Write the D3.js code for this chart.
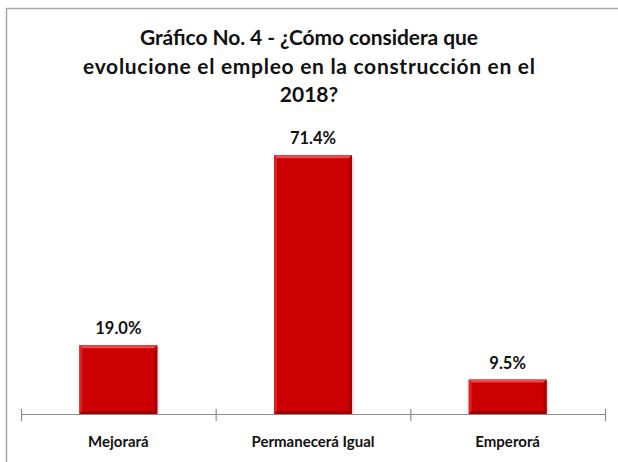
<!DOCTYPE html>
<meta charset="utf-8">
<style>
body { margin: 0; background: #fff; }
text { font-family: Lato, "Open Sans", sans-serif; font-weight: bold; fill: #111; }
</style>
<body>
<script src="https://d3js.org/d3.v7.min.js"></script>
<script>

// data
var categories = ["Mejorará", "Permanecerá Igual", "Emperorá"];
var values = [19.0, 71.4, 9.5];
var valueLabels = ["19.0%", "71.4%", "9.5%"];
var titleLines = ["Gráfico No. 4 - ¿Cómo considera que",
                  "evolucione el empleo en la construcción en el",
                  "2018?"];
var titleWidths = [338, 452, null];

var w = 618, h = 462;

var svg = d3.select("body").append("svg")
    .attr("width", w)
    .attr("height", h);

// chart frame (runs past the right / bottom edge)
svg.append("rect")
    .attr("x", 6.5).attr("y", 8.5)
    .attr("width", 640).attr("height", 480)
    .attr("fill", "#fff")
    .attr("stroke", "#a6a6a6")
    .attr("stroke-width", 1.5);

// title
svg.selectAll(".title")
    .data(titleLines)
    .enter().append("text")
    .attr("class", "title")
    .attr("x", 309)
    .attr("y", function(d, i) { return 45 + i * 28.5; })
    .attr("text-anchor", "middle")
    .style("font-size", "21px")
    .each(function(d, i) {
        if (titleWidths[i]) {
            d3.select(this).attr("textLength", titleWidths[i]).attr("lengthAdjust", "spacing");
        }
    })
    .text(function(d) { return d; });

// scales
var x = d3.scaleBand()
    .domain(categories)
    .range([21, 605])
    .padding(0);

var y = d3.scaleLinear()
    .domain([0, 80])
    .range([414, 124]);

var barW = x.bandwidth() * 0.4;

// axis line + ticks at band edges
svg.append("line")
    .attr("x1", 21).attr("x2", 605)
    .attr("y1", 414.5).attr("y2", 414.5)
    .attr("stroke", "#8c8c8c").attr("stroke-width", 1.2);

var edges = categories.map(function(c) { return x(c); }).concat([x.range()[1]]);
svg.selectAll(".tick")
    .data(edges)
    .enter().append("line")
    .attr("x1", function(d) { return d + 0.5; })
    .attr("x2", function(d) { return d + 0.5; })
    .attr("y1", 409).attr("y2", 421)
    .attr("stroke", "#8c8c8c").attr("stroke-width", 1.2);

// bars with bevel look
var data = categories.map(function(c, i) { return {cat: c, v: values[i], lab: valueLabels[i]}; });

var g = svg.selectAll(".bar")
    .data(data)
    .enter().append("g")
    .attr("class", "bar");

var b = 3; // bevel size

function bx(d) { return x(d.cat) + (x.bandwidth() - barW) / 2; }

g.append("rect")
    .attr("x", function(d) { return bx(d) + 2; })
    .attr("y", function(d) { return y(d.v) + 2; })
    .attr("width", barW)
    .attr("height", function(d) { return y(0) - y(d.v) - 2; })
    .attr("fill", "#000")
    .attr("opacity", 0.12);

g.append("rect")
    .attr("x", bx)
    .attr("y", function(d) { return y(d.v); })
    .attr("width", barW)
    .attr("height", function(d) { return y(0) - y(d.v); })
    .attr("fill", "#cc0000");

// top highlight
g.append("path")
    .attr("d", function(d) {
        var x0 = bx(d), x1 = x0 + barW, t = y(d.v);
        return "M" + x0 + "," + t + "L" + x1 + "," + t + "L" + (x1 - b) + "," + (t + b) + "L" + (x0 + b) + "," + (t + b) + "Z";
    })
    .attr("fill", "#ea4a4a");
// left highlight
g.append("path")
    .attr("d", function(d) {
        var x0 = bx(d), t = y(d.v), bt = y(0);
        return "M" + x0 + "," + t + "L" + (x0 + b) + "," + (t + b) + "L" + (x0 + b) + "," + (bt - b) + "L" + x0 + "," + bt + "Z";
    })
    .attr("fill", "#dd2020");
// right shade
g.append("path")
    .attr("d", function(d) {
        var x1 = bx(d) + barW, t = y(d.v), bt = y(0);
        return "M" + x1 + "," + t + "L" + (x1 - b) + "," + (t + b) + "L" + (x1 - b) + "," + (bt - b) + "L" + x1 + "," + bt + "Z";
    })
    .attr("fill", "#a80000");
// bottom shade
g.append("path")
    .attr("d", function(d) {
        var x0 = bx(d), x1 = x0 + barW, bt = y(0);
        return "M" + x0 + "," + bt + "L" + x1 + "," + bt + "L" + (x1 - b) + "," + (bt - b) + "L" + (x0 + b) + "," + (bt - b) + "Z";
    })
    .attr("fill", "#990000");

// value labels
g.append("text")
    .attr("x", function(d) { return x(d.cat) + x.bandwidth() / 2; })
    .attr("y", function(d) { return y(d.v) - 11; })
    .attr("text-anchor", "middle")
    .style("font-size", "16.5px")
    .text(function(d) { return d.lab; });

// category labels
g.append("text")
    .attr("x", function(d) { return x(d.cat) + x.bandwidth() / 2; })
    .attr("y", 447)
    .attr("text-anchor", "middle")
    .style("font-size", "15px")
    .text(function(d) { return d.cat; });

</script>
</body>
